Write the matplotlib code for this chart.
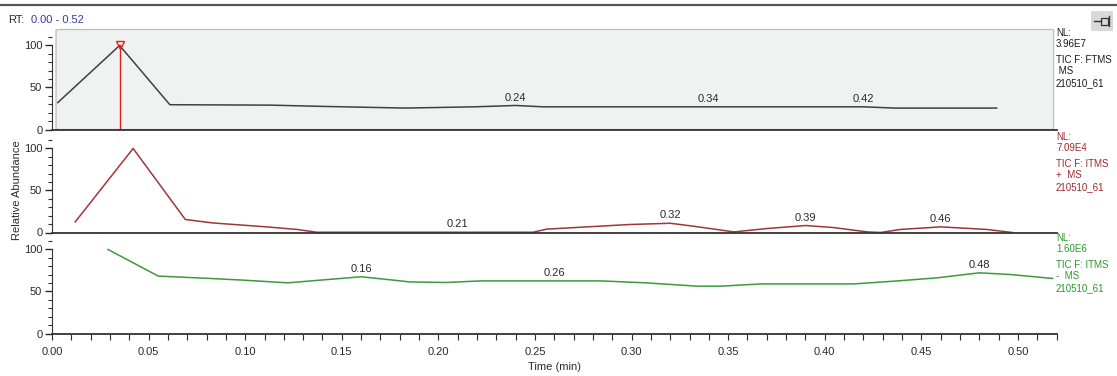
import numpy as np
import matplotlib
matplotlib.use("Agg")
import matplotlib.pyplot as plt
from matplotlib.patches import FancyBboxPatch, Rectangle
from matplotlib.lines import Line2D
from matplotlib.ticker import MultipleLocator

plt.rcParams['font.family'] = ['Liberation Sans', 'DejaVu Sans']

# TIC traces, relative abundance (%) vs retention time (min)
ftms_time = [0.003, 0.035, 0.061, 0.113, 0.140, 0.183, 0.219, 0.240, 0.254,
             0.340, 0.420, 0.436, 0.489]
ftms_abund = [32, 100, 29.5, 29, 27.5, 25.5, 27, 28.6, 27, 27, 27, 25.5, 25.5]

itms_pos_time = [0.012, 0.042, 0.069, 0.083, 0.111, 0.127, 0.137, 0.210,
                 0.249, 0.256, 0.277, 0.299, 0.320, 0.332, 0.353, 0.370,
                 0.390, 0.404, 0.422, 0.429, 0.439, 0.460, 0.484, 0.497]
itms_pos_abund = [12.6, 100, 15.5, 11.4, 6.7, 3.6, 0.3, 0.3, 0.3, 4, 6.7,
                  9.5, 11, 7.5, 0.7, 4.7, 8.3, 6, 0.7, 0, 3.6, 6.7, 3.6, 0]

itms_neg_time = [0.029, 0.055, 0.082, 0.099, 0.122, 0.160, 0.180, 0.185,
                 0.204, 0.222, 0.260, 0.284, 0.308, 0.316, 0.334, 0.346,
                 0.367, 0.415, 0.436, 0.458, 0.480, 0.496, 0.518]
itms_neg_abund = [100, 68.3, 65.5, 63.5, 60.3, 67.5, 62.7, 61.4, 60.7, 62.6,
                  62.6, 62.6, 60.2, 59, 56.3, 56.3, 59, 59, 62.3, 66.2, 72.2,
                  70.2, 65.5]

# labelled peak apexes for each trace
ftms_peaks = [0.24, 0.34, 0.42]
itms_pos_peaks = [0.21, 0.32, 0.39, 0.46]
itms_neg_peaks = [0.16, 0.26, 0.48]

# base peak marker on the top trace
marked_rt = 0.035

# header text for each trace
ftms_info = ["NL:", "3.96E7", "TIC F: FTMS", " MS", "210510_61"]
itms_pos_info = ["NL:", "7.09E4", "TIC F: ITMS", "+  MS", "210510_61"]
itms_neg_info = ["NL:", "1.60E6", "TIC F: ITMS", "-  MS", "210510_61"]

W, H = 1117, 376
fig = plt.figure(figsize=(W / 100, H / 100), dpi=100)


def fx(px):
    return px / W


def fy(py):
    return 1 - py / H


x_left, x_right = 52, 1056.6
ymax = 119


def make_axes(y_zero_px):
    top_px = y_zero_px - 100
    ax = fig.add_axes([fx(x_left), fy(y_zero_px), fx(x_right - x_left),
                       (y_zero_px - top_px) / H])
    ax.set_xlim(0, 0.52)
    ax.set_ylim(0, ymax)
    ax.set_facecolor("none")
    for s in ["top", "right"]:
        ax.spines[s].set_visible(False)
    ax.spines["left"].set_bounds(0, 100)
    ax.spines["left"].set_color("#333333")
    ax.spines["bottom"].set_color("#333333")
    ax.spines["bottom"].set_linewidth(1.3)
    ax.yaxis.set_major_locator(MultipleLocator(50))
    ax.yaxis.set_minor_locator(MultipleLocator(10))
    ax.xaxis.set_major_locator(MultipleLocator(0.05))
    ax.xaxis.set_minor_locator(MultipleLocator(0.01))
    ax.tick_params(axis="y", which="major", length=5, width=1,
                   labelsize=8, pad=2, colors="#2a2a2a")
    ax.tick_params(axis="y", which="minor", length=3, width=0.8,
                   colors="#333333")
    ax.tick_params(axis="x", which="both", length=4, width=0.8,
                   labelsize=8, colors="#2a2a2a")
    return ax


def label_peaks(ax, times, abund, peaks, color="#2a2a2a"):
    for t in peaks:
        y = np.interp(t, times, abund)
        ax.annotate(f"{t:.2f}", (t, y), xytext=(0, 2),
                    textcoords="offset points", ha="center", va="bottom",
                    fontsize=8, color=color)


def info_text(lines, y_px, color):
    offsets = [0, 11, 27, 38, 50]
    for txt, dy in zip(lines, offsets):
        fig.text(fx(1056), fy(y_px + dy), txt, fontsize=7, color=color,
                 va="center", ha="left")


# top panel: FTMS
ax1 = make_axes(129.5)
bg = FancyBboxPatch((0.004, 0.0), 0.993, 1.0,
                    boxstyle="round,pad=0,rounding_size=0.006",
                    transform=ax1.transAxes, facecolor="#f0f1f1",
                    edgecolor="#bdbdbd", lw=0.9, zorder=0, clip_on=False)
ax1.add_patch(bg)
ax1.plot(ftms_time, ftms_abund, color="#404040", lw=1.1)
ax1.plot([marked_rt, marked_rt], [0, 100], color="#e02020", lw=1)
ax1.plot(marked_rt, 100, marker="v", ms=6, mfc="none", mec="#e02020",
         mew=1, clip_on=False)
label_peaks(ax1, ftms_time, ftms_abund, ftms_peaks)
ax1.tick_params(axis="x", which="both", bottom=False, labelbottom=False)

# middle panel: ITMS +
ax2 = make_axes(232.5)
ax2.plot(itms_pos_time, itms_pos_abund, color="#a0353a", lw=1.1)
label_peaks(ax2, itms_pos_time, itms_pos_abund, itms_pos_peaks)
ax2.tick_params(axis="x", which="both", bottom=False, labelbottom=False)

# bottom panel: ITMS -
ax3 = make_axes(333.5)
ax3.plot(itms_neg_time, itms_neg_abund, color="#3c9a3c", lw=1.1)
label_peaks(ax3, itms_neg_time, itms_neg_abund, itms_neg_peaks)
ax3.xaxis.set_major_formatter(matplotlib.ticker.FormatStrFormatter("%.2f"))
ax3.tick_params(axis="x", pad=6)
ax3.set_xlabel("Time (min)", fontsize=8, color="#2a2a2a", labelpad=3)

fig.text(fx(17), fy(190), "Relative Abundance", rotation=90, fontsize=8,
         color="#2a2a2a", ha="center", va="center")

info_text(ftms_info, 33, "#1a1a1a")
info_text(itms_pos_info, 137, "#a0282e")
info_text(itms_neg_info, 238, "#2a9a2a")

# header line and range label
fig.add_artist(Line2D([0, 1], [fy(4.5), fy(4.5)], color="#555555", lw=1.6))
fig.text(fx(8), fy(20), "RT:", fontsize=8, color="#2a2a2a", va="center")
fig.text(fx(31), fy(20), "0.00 - 0.52", fontsize=8, color="#3a3a9a",
         va="center")

# pin button
fig.add_artist(Rectangle((fx(1091), fy(31)), fx(22), (31 - 11) / H,
                         facecolor="#d9d9d9", edgecolor="none"))
fig.add_artist(Line2D([fx(1094), fx(1101)], [fy(21), fy(21)],
                      color="#333333", lw=1))
fig.add_artist(Rectangle((fx(1101), fy(24.5)), fx(7), 7 / H,
                         facecolor="none", edgecolor="#333333", lw=0.9))
fig.add_artist(Line2D([fx(1109), fx(1109)], [fy(16), fy(26)],
                      color="#333333", lw=1))

fig.savefig("out.png", dpi=100)
